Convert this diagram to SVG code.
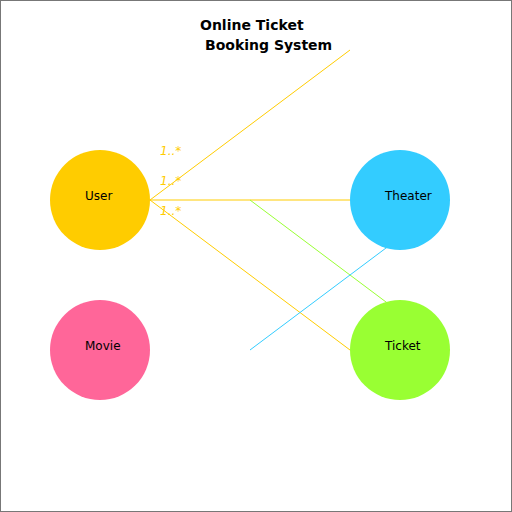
<svg xmlns="http://www.w3.org/2000/svg" width="512" height="512" viewBox="0 0 512 512">
<style>
.title{font-family:"DejaVu Sans",sans-serif;font-weight:bold;font-size:14px;fill:#000}
.lbl{font-family:"DejaVu Sans",sans-serif;font-size:12px;fill:#000}
.mult{font-family:"DejaVu Sans",sans-serif;font-style:italic;font-size:12px;fill:#FFCC00}
.c{fill:none;stroke-width:1}
</style>
<rect x="0.5" y="0.5" width="511" height="511" fill="#fff" stroke="#777"/>
<g id="title">
<text class="title" x="200" y="30">Online Ticket</text>
<text class="title" x="205" y="50">Booking System</text>
</g>
<g id="connectors">
<line class="c" stroke="#FFCC00" x1="150" y1="200" x2="350" y2="50"/>
<line class="c" stroke="#FFCC00" x1="150" y1="200" x2="350" y2="200"/>
<line class="c" stroke="#FFCC00" x1="150" y1="200" x2="350" y2="350"/>
<line class="c" stroke="#99FF33" x1="250" y1="200" x2="450" y2="350"/>
<line class="c" stroke="#33CCFF" x1="250" y1="350" x2="450" y2="200"/>
<text class="mult" x="160" y="155">1..*</text>
<text class="mult" x="160" y="185">1..*</text>
<text class="mult" x="160" y="215">1..*</text>
</g>
<g id="user">
<circle cx="100" cy="200" r="50" fill="#FFCC00"/>
<text class="lbl" x="85" y="200">User</text>
</g>
<g id="theater">
<circle cx="400" cy="200" r="50" fill="#33CCFF"/>
<text class="lbl" x="385" y="200">Theater</text>
</g>
<g id="movie">
<circle cx="100" cy="350" r="50" fill="#FF6699"/>
<text class="lbl" x="85" y="350">Movie</text>
</g>
<g id="ticket">
<circle cx="400" cy="350" r="50" fill="#99FF33"/>
<text class="lbl" x="385" y="350">Ticket</text>
</g>
</svg>
